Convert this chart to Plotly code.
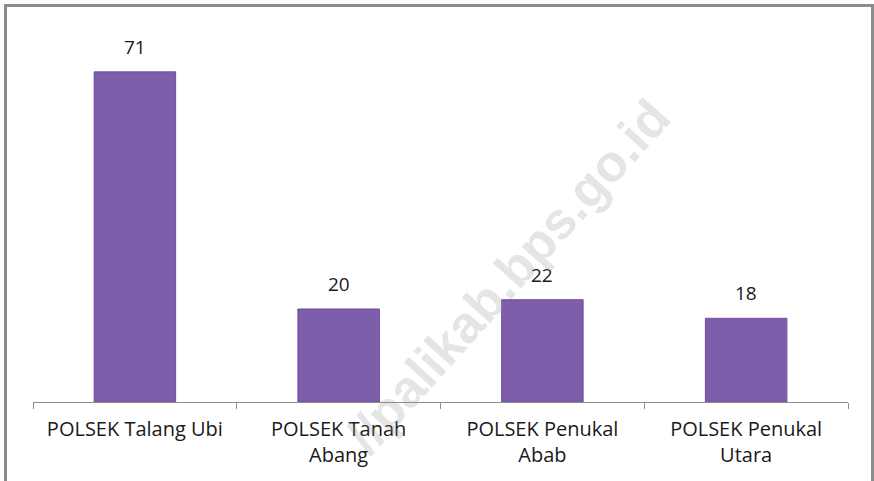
import plotly.graph_objects as go

categories = ["POLSEK Talang Ubi", "POLSEK Tanah<br>Abang", "POLSEK Penukal<br>Abab", "POLSEK Penukal<br>Utara"]
values = [71, 20, 22, 18]
watermark = "//palikab.bps.go.id"

W, H = 874, 481
ml, mr, mt, mb = 33, 26, 30, 79
pw, ph = W - ml - mr, H - mt - mb

def px_x(x):
    return (x - ml) / pw

def px_y(y):
    return (H - mb - y) / ph

FONT = "Open Sans"

fig = go.Figure()
fig.add_trace(go.Bar(
    x=categories, y=values,
    marker=dict(color="#7E5DAB", line=dict(color="#6E4F9C", width=1)),
    width=0.4, hoverinfo="x+y",
))

for c, v in zip(categories, values):
    fig.add_annotation(x=c, y=v, text=str(v), showarrow=False,
                       xanchor="center", yanchor="bottom", yshift=10,
                       font=dict(family=FONT, size=19, color="#1a1a1a"))

fig.add_annotation(
    text=watermark, xref="paper", yref="paper",
    x=px_x(508), y=px_y(276), xanchor="center", yanchor="middle",
    showarrow=False, textangle=-48,
    font=dict(family="Liberation Sans", size=52, color="rgba(150,150,150,0.25)", weight="bold"),
)

fig.add_shape(type="path", xref="paper", yref="paper",
              path=f"M {px_x(5.5)} {px_y(500)} L {px_x(5.5)} {px_y(5.5)} L {px_x(872.5)} {px_y(5.5)} L {px_x(872.5)} {px_y(500)}",
              line=dict(color="#8c8c8c", width=3))

fig.update_layout(
    width=W, height=H,
    margin=dict(l=ml, r=mr, t=mt, b=mb, autoexpand=False),
    paper_bgcolor="white", plot_bgcolor="white",
    showlegend=False,
    xaxis=dict(showline=True, linecolor="#8c8c8c", linewidth=1,
               ticks="outside", tickson="boundaries", ticklen=6, tickcolor="#8c8c8c",
               tickfont=dict(family=FONT, size=20, color="#1a1a1a"),
               ticklabelstandoff=9,
               automargin=False, showgrid=False),
    yaxis=dict(range=[0, 80], visible=False, showgrid=False, fixedrange=True),
)

fig.write_html("out.html", config={"displayModeBar": False},
               post_script="document.body.style.margin='0';document.body.style.overflow='hidden';")
